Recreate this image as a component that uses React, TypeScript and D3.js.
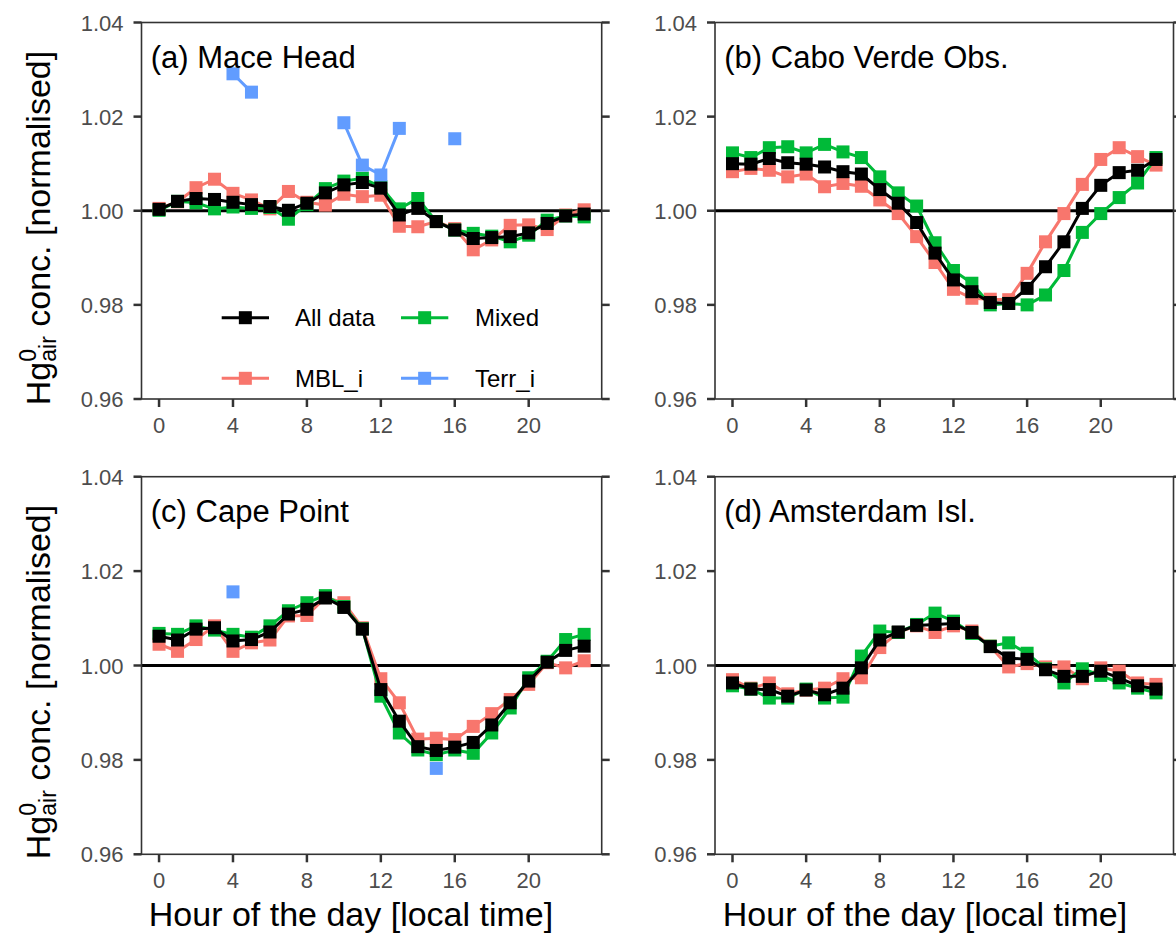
import React from 'react';
import * as d3 from 'd3';

// hour of day (x categories)
const hours = [0, 1, 2, 3, 4, 5, 6, 7, 8, 9, 10, 11, 12, 13, 14, 15, 16, 17, 18, 19, 20, 21, 22, 23];
const xTicks = [0, 4, 8, 12, 16, 20];
const yTicks = [0.96, 0.98, 1.0, 1.02, 1.04];

// (a) Mace Head
const maceAll = [1.0003, 1.002, 1.0026, 1.0024, 1.0018, 1.0013, 1.0009, 1.0001, 1.0016, 1.0038, 1.0055, 1.006, 1.0048, 0.9991, 1.0005, 0.9977, 0.9959, 0.9941, 0.9943, 0.9945, 0.9953, 0.9973, 0.9989, 0.9993];
const maceMixed = [1.0001, 1.002, 1.0017, 1.0004, 1.0008, 1.0005, 1.0007, 0.9982, 1.0013, 1.0047, 1.0063, 1.0069, 1.0051, 1.0004, 1.0026, 0.9977, 0.9959, 0.9952, 0.9946, 0.9934, 0.9948, 0.998, 0.9989, 0.9987];
const maceMBL = [1.0005, 1.0019, 1.0049, 1.0067, 1.0037, 1.0023, 1.0004, 1.0041, 1.0018, 1.0012, 1.0035, 1.003, 1.0033, 0.9967, 0.9966, 0.9977, 0.9962, 0.9917, 0.9938, 0.9969, 0.997, 0.996, 0.9991, 1.0002];
const maceTerr = [null, null, null, null, 1.0291, 1.0252, null, null, null, null, 1.0187, 1.0097, 1.0076, 1.0175, null, null, 1.0153, null, null, null, null, null, null, null];

// (b) Cabo Verde Obs.
const caboAll = [1.01, 1.0099, 1.0111, 1.0102, 1.0099, 1.0093, 1.0083, 1.0078, 1.0045, 1.0016, 0.9975, 0.991, 0.9853, 0.9828, 0.9805, 0.9803, 0.9835, 0.9881, 0.9934, 1.0005, 1.0054, 1.0081, 1.0086, 1.0109];
const caboMixed = [1.0123, 1.0113, 1.0134, 1.0136, 1.0123, 1.0141, 1.0125, 1.0113, 1.0072, 1.0038, 1.001, 0.9932, 0.9873, 0.9846, 0.98, 0.9803, 0.98, 0.9821, 0.9873, 0.9954, 0.9994, 1.0028, 1.0059, 1.0113];
const caboMBL = [1.0083, 1.009, 1.0086, 1.0072, 1.0078, 1.0051, 1.0058, 1.0052, 1.0023, 0.9994, 0.9945, 0.989, 0.9833, 0.9814, 0.9812, 0.9811, 0.9867, 0.9934, 0.9994, 1.0056, 1.0109, 1.0134, 1.0115, 1.0097];
const caboTerr = hours.map(() => null);

// (c) Cape Point
const capeAll = [1.0062, 1.0054, 1.0077, 1.008, 1.0052, 1.0055, 1.0071, 1.0109, 1.0119, 1.0143, 1.0123, 1.0077, 0.9949, 0.9882, 0.9828, 0.982, 0.9827, 0.9837, 0.9874, 0.9921, 0.9967, 1.0007, 1.0032, 1.0041];
const capeMixed = [1.0068, 1.0066, 1.0084, 1.0075, 1.0066, 1.006, 1.0084, 1.0116, 1.0133, 1.0148, 1.0125, 1.0078, 0.9935, 0.9857, 0.9821, 0.9811, 0.9821, 0.9814, 0.9857, 0.991, 0.9974, 1.0009, 1.0055, 1.0066];
const capeMBL = [1.0045, 1.003, 1.0055, 1.0084, 1.003, 1.0048, 1.0054, 1.0105, 1.0106, 1.0144, 1.0133, 1.008, 0.9972, 0.9921, 0.9844, 0.9846, 0.9843, 0.9871, 0.9898, 0.9928, 0.996, 1.0006, 0.9995, 1.001];
const capeTerr = [null, null, null, null, 1.0156, null, null, null, null, null, null, null, null, null, null, 0.9782, null, null, null, null, null, null, null, null];

// (d) Amsterdam Isl.
const amsAll = [0.9963, 0.995, 0.9949, 0.9935, 0.9948, 0.9938, 0.9952, 0.9995, 1.0054, 1.0071, 1.0085, 1.0087, 1.0089, 1.007, 1.004, 1.0016, 1.0013, 0.9991, 0.9977, 0.9977, 0.9988, 0.9974, 0.9957, 0.995];
const amsMixed = [0.9957, 0.995, 0.9931, 0.9931, 0.995, 0.9931, 0.9933, 1.002, 1.0073, 1.007, 1.0087, 1.0111, 1.0094, 1.0068, 1.0041, 1.0048, 1.0026, 0.9993, 0.9963, 0.9993, 0.9979, 0.9963, 0.9952, 0.9942];
const amsMBL = [0.997, 0.9952, 0.9963, 0.994, 0.9948, 0.9952, 0.9972, 0.9974, 1.0038, 1.007, 1.0084, 1.007, 1.0084, 1.0073, 1.0041, 0.9997, 1.0004, 0.9997, 0.9997, 0.9972, 0.9995, 0.9988, 0.9963, 0.996];
const amsTerr = hours.map(() => null);

const seriesNames = ['All data', 'MBL_i', 'Mixed', 'Terr_i'];
const seriesColors = ['#000000', '#F8766D', '#00BA38', '#619CFF'];

const sites = [
  { title: '(a) Mace Head', data: [maceAll, maceMBL, maceMixed, maceTerr], col: 0, row: 0 },
  { title: '(b) Cabo Verde Obs.', data: [caboAll, caboMBL, caboMixed, caboTerr], col: 1, row: 0 },
  { title: '(c) Cape Point', data: [capeAll, capeMBL, capeMixed, capeTerr], col: 0, row: 1 },
  { title: '(d) Amsterdam Isl.', data: [amsAll, amsMBL, amsMixed, amsTerr], col: 1, row: 1 },
];

const FONT = 'Liberation Sans, Arial, Helvetica, sans-serif';
const colBox = [[141.5, 601.7], [715, 1173.5]];
const rowBox = [[22.5, 399], [476.7, 854.3]];
const AX = '#333333';
const TICK_TXT = '#4D4D4D';
const MS = 13; // marker size
const TITLE_SIZE = 34;

function Panel({ site }) {
  const [left, right] = colBox[site.col];
  const [top, bottom] = rowBox[site.row];
  const x = d3.scaleLinear().domain([-0.95, 23.95]).range([left, right]);
  const y = d3.scaleLinear().domain([0.96, 1.04]).range([bottom, top]);
  const line = d3.line<number | null>()
    .defined(v => v != null)
    .x((_, i) => x(hours[i]))
    .y(v => y(v as number));

  // coloured groups first, "All data" on top
  const order = [1, 2, 3, 0];

  return (
    <g>
      <line x1={left} x2={right} y1={y(1)} y2={y(1)} stroke="#000" strokeWidth={3} />
      {order.map(k => {
        const vals = site.data[k];
        return (
          <g key={k}>
            <path d={line(vals) || ''} fill="none" stroke={seriesColors[k]} strokeWidth={3} />
            {vals.map((v, i) => v == null ? null : (
              <rect key={i} x={x(hours[i]) - MS / 2} y={y(v) - MS / 2} width={MS} height={MS} fill={seriesColors[k]} />
            ))}
          </g>
        );
      })}
      <rect x={left} y={top} width={right - left} height={bottom - top} fill="none" stroke={AX} strokeWidth={1.6} />
      {yTicks.map(t => (
        <g key={t}>
          <line x1={left - 8} x2={left} y1={y(t)} y2={y(t)} stroke={AX} strokeWidth={2.5} />
          <line x1={right} x2={right + 8} y1={y(t)} y2={y(t)} stroke={AX} strokeWidth={2.5} />
          <text x={left - 18} y={y(t)} dy={8} textAnchor="end" fontSize={22} fill={TICK_TXT} fontFamily={FONT}>
            {d3.format('.2f')(t)}
          </text>
        </g>
      ))}
      {xTicks.map(t => (
        <g key={t}>
          <line x1={x(t)} x2={x(t)} y1={bottom} y2={bottom + 8} stroke={AX} strokeWidth={2.5} />
          <text x={x(t)} y={bottom + 34} textAnchor="middle" fontSize={22} fill={TICK_TXT} fontFamily={FONT}>{t}</text>
        </g>
      ))}
      <text x={left + 9.3} y={top + 45.5} fontSize={31} fontFamily={FONT} fill="#000">{site.title}</text>
    </g>
  );
}

function Legend() {
  const rows = [317.7, 378.3];
  const keyX = [[221.7, 269], [401, 448.3]];
  const textX = [295, 475];
  // filled column-wise: All data, MBL_i | Mixed, Terr_i
  const items = [0, 1, 2, 3].map(k => ({ k, c: Math.floor(k / 2), r: k % 2 }));
  return (
    <g>
      {items.map(({ k, c, r }) => {
        const [x1, x2] = keyX[c];
        const cy = rows[r];
        return (
          <g key={k}>
            <line x1={x1} x2={x2} y1={cy} y2={cy} stroke={seriesColors[k]} strokeWidth={3} />
            <rect x={(x1 + x2) / 2 - MS / 2} y={cy - MS / 2} width={MS} height={MS} fill={seriesColors[k]} />
            <text x={textX[c]} y={cy} dy={8.5} fontSize={24} fontFamily={FONT} fill="#000">{seriesNames[k]}</text>
          </g>
        );
      })}
    </g>
  );
}

function YTitle({ cy }) {
  return (
    <text transform={`translate(50,${cy}) rotate(-90)`} textAnchor="middle" fontSize={TITLE_SIZE} fontFamily={FONT} fill="#000">
      Hg<tspan fontSize={23} dy={-14}>0</tspan>
      <tspan fontSize={23} dx={-12.8} dy={20}>air</tspan>
      <tspan dy={-6}>{' conc. [normalised]'}</tspan>
    </text>
  );
}

export default function App() {
  return (
    <svg width={1176} height={946} style={{ position: 'absolute', left: 0, top: 0, background: '#fff' }}>
      <rect width={1176} height={946} fill="#fff" />
      {sites.map(s => <Panel key={s.title} site={s} />)}
      <Legend />
      <YTitle cy={228} />
      <YTitle cy={682} />
      <text x={351} y={926} textAnchor="middle" fontSize={TITLE_SIZE} fontFamily={FONT} fill="#000">Hour of the day [local time]</text>
      <text x={925} y={926} textAnchor="middle" fontSize={TITLE_SIZE} fontFamily={FONT} fill="#000">Hour of the day [local time]</text>
    </svg>
  );
}
